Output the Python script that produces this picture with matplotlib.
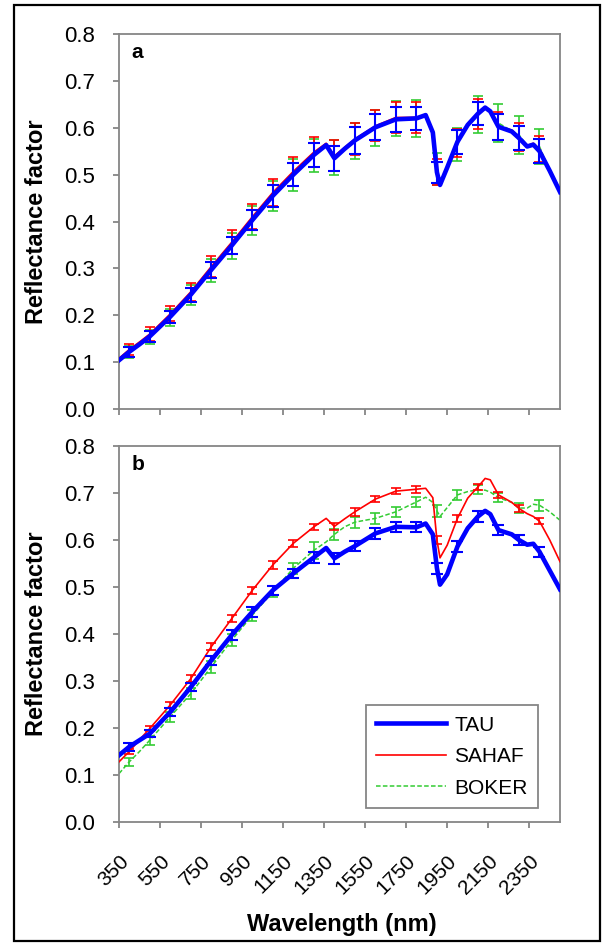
import numpy as np
import matplotlib
matplotlib.use('Agg')
import matplotlib.pyplot as plt
from matplotlib.patches import Rectangle

plt.rcParams['font.family'] = ['Liberation Sans', 'DejaVu Sans']

# noeuds de longueur d'onde (nm)
wl = [350, 400, 450, 500, 600, 700, 800, 900, 1000, 1100, 1200, 1300, 1360, 1400,
      1450, 1500, 1600, 1700, 1800, 1845, 1880, 1900, 1915, 1950, 2000, 2050, 2100,
      2135, 2160, 2200, 2265, 2300, 2340, 2370, 2400, 2450, 2500]

# panneau a
tau_a = [0.104, 0.122, 0.138, 0.155, 0.197, 0.244, 0.297, 0.349, 0.403, 0.455, 0.500,
         0.542, 0.563, 0.535, 0.555, 0.573, 0.601, 0.618, 0.620, 0.627, 0.590, 0.505,
         0.478, 0.515, 0.570, 0.606, 0.630, 0.643, 0.635, 0.602, 0.592, 0.578, 0.560,
         0.564, 0.550, 0.508, 0.463]
sahaf_a = [0.108, 0.127, 0.143, 0.160, 0.203, 0.250, 0.304, 0.356, 0.410, 0.462, 0.507,
           0.548, 0.567, 0.540, 0.558, 0.576, 0.604, 0.622, 0.622, 0.628, 0.592, 0.505,
           0.475, 0.515, 0.567, 0.606, 0.630, 0.642, 0.636, 0.603, 0.595, 0.580, 0.562,
           0.567, 0.555, 0.510, 0.465]
boker_a = [0.103, 0.121, 0.137, 0.154, 0.196, 0.243, 0.296, 0.348, 0.402, 0.454, 0.499,
           0.541, 0.561, 0.536, 0.554, 0.572, 0.600, 0.620, 0.620, 0.626, 0.592, 0.512,
           0.480, 0.518, 0.565, 0.604, 0.628, 0.641, 0.634, 0.610, 0.593, 0.585, 0.562,
           0.563, 0.560, 0.507, 0.462]

# panneau b
tau_b = [0.142, 0.160, 0.174, 0.188, 0.234, 0.287, 0.344, 0.398, 0.447, 0.493, 0.529,
         0.563, 0.583, 0.561, 0.575, 0.587, 0.614, 0.628, 0.627, 0.635, 0.612, 0.540,
         0.505, 0.527, 0.586, 0.625, 0.650, 0.662, 0.655, 0.621, 0.612, 0.600, 0.590,
         0.592, 0.575, 0.535, 0.495]
sahaf_b = [0.128, 0.150, 0.175, 0.199, 0.249, 0.305, 0.373, 0.433, 0.493, 0.547, 0.593,
           0.628, 0.646, 0.629, 0.645, 0.660, 0.687, 0.704, 0.708, 0.710, 0.690, 0.600,
           0.562, 0.589, 0.646, 0.689, 0.713, 0.731, 0.728, 0.696, 0.680, 0.667, 0.656,
           0.650, 0.640, 0.600, 0.554]
boker_b = [0.103, 0.128, 0.150, 0.174, 0.224, 0.273, 0.330, 0.387, 0.440, 0.490, 0.540,
           0.578, 0.596, 0.612, 0.628, 0.638, 0.646, 0.660, 0.681, 0.691, 0.680, 0.662,
           0.650, 0.669, 0.696, 0.703, 0.707, 0.706, 0.702, 0.690, 0.680, 0.668, 0.668,
           0.676, 0.674, 0.660, 0.642]

# barres d'erreur tous les 100 nm
wl_err = list(range(400, 2401, 100))
err_tau_a = [0.010, 0.012, 0.013, 0.015, 0.017, 0.019, 0.021, 0.023, 0.025, 0.026, 0.027,
             0.028, 0.028, 0.026, 0.025, 0.022, 0.025, 0.025, 0.028, 0.025, 0.025]
err_sahaf_a = [0.012, 0.014, 0.016, 0.019, 0.022, 0.025, 0.027, 0.029, 0.031, 0.032, 0.033,
               0.034, 0.033, 0.034, 0.034, 0.028, 0.030, 0.032, 0.030, 0.030, 0.028]
err_boker_a = [0.013, 0.015, 0.018, 0.021, 0.024, 0.027, 0.030, 0.032, 0.034, 0.036, 0.037,
               0.038, 0.038, 0.038, 0.040, 0.035, 0.035, 0.040, 0.040, 0.040, 0.038]
err_tau_b = [0.008, 0.008, 0.009, 0.009, 0.010, 0.010, 0.010, 0.010, 0.010, 0.011, 0.011,
             0.011, 0.011, 0.011, 0.011, 0.012, 0.012, 0.012, 0.011, 0.011, 0.011]
err_sahaf_b = [0.006, 0.006, 0.007, 0.007, 0.007, 0.007, 0.008, 0.008, 0.008, 0.007, 0.007,
               0.008, 0.007, 0.007, 0.007, 0.008, 0.008, 0.007, 0.007, 0.007, 0.007]
err_boker_b = [0.008, 0.010, 0.011, 0.012, 0.012, 0.012, 0.012, 0.012, 0.012, 0.018, 0.012,
               0.012, 0.012, 0.011, 0.011, 0.012, 0.010, 0.010, 0.010, 0.010, 0.012]

xticks = list(range(350, 2351, 200))
yticks = [0.0, 0.1, 0.2, 0.3, 0.4, 0.5, 0.6, 0.7, 0.8]

BLUE = '#0000ff'
RED = '#ff0000'
GREEN = '#33cc33'
GRAY = '#868686'


def at_err(vals):
    # valeurs de la série aux longueurs d'onde des barres
    d = dict(zip(wl, vals))
    return [d[w] for w in wl_err]


def draw_panel(ax, tau, sahaf, boker, etau, esahaf, eboker, letter, legend=False):
    ax.plot(wl, boker, color=GREEN, lw=1.1, ls=(0, (3, 1.5)), label='BOKER', zorder=2)
    ax.errorbar(wl_err, at_err(boker), yerr=eboker, fmt='none', ecolor=GREEN,
                elinewidth=1.2, capsize=3.6, capthick=1.2, zorder=2)
    ax.plot(wl, sahaf, color=RED, lw=1.2, label='SAHAF', zorder=3)
    ax.errorbar(wl_err, at_err(sahaf), yerr=esahaf, fmt='none', ecolor=RED,
                elinewidth=1.2, capsize=3.6, capthick=1.2, zorder=3)
    ax.plot(wl, tau, color=BLUE, lw=3.3, label='TAU', zorder=4)
    ax.errorbar(wl_err, at_err(tau), yerr=etau, fmt='none', ecolor=BLUE,
                elinewidth=1.5, capsize=4.2, capthick=1.5, zorder=4)

    ax.set_xlim(350, 2500)
    ax.set_ylim(0, 0.8)
    ax.set_xticks(xticks)
    ax.set_yticks(yticks)
    ax.set_yticklabels(['%.1f' % v for v in yticks], fontsize=16)
    for s in ax.spines.values():
        s.set_color(GRAY)
        s.set_linewidth(1.3)
    ax.tick_params(color=GRAY, width=1.3, length=4.5, direction='out')
    ax.tick_params(axis='y', pad=12.5)
    ax.text(0.029, 0.936, letter, transform=ax.transAxes, fontsize=15,
            fontweight='bold', va='baseline', ha='left')
    if legend:
        handles, labels = ax.get_legend_handles_labels()
        order = [labels.index(n) for n in ['TAU', 'SAHAF', 'BOKER']]
        leg = ax.legend([handles[i] for i in order], [labels[i] for i in order],
                        loc='lower right', bbox_to_anchor=(0.95, 0.037), borderaxespad=0,
                        fontsize=15, fancybox=False, framealpha=1, edgecolor=GRAY,
                        handlelength=3.37, handletextpad=0.38, borderpad=0.5,
                        labelspacing=0.6)
        leg.get_frame().set_linewidth(1.3)


fig = plt.figure(figsize=(6.05, 9.43), dpi=100)

ax_a = fig.add_axes([119 / 605, (943 - 409) / 943, (560 - 119) / 605, (409 - 34) / 943])
ax_b = fig.add_axes([119 / 605, (943 - 822) / 943, (560 - 119) / 605, (822 - 446) / 943])

draw_panel(ax_a, tau_a, sahaf_a, boker_a, err_tau_a, err_sahaf_a, err_boker_a, 'a')
ax_a.set_xticklabels([])
draw_panel(ax_b, tau_b, sahaf_b, boker_b, err_tau_b, err_sahaf_b, err_boker_b, 'b', legend=True)
ax_b.set_xticklabels([str(v) for v in xticks], rotation=45, ha='right',
                     rotation_mode='anchor', fontsize=15)
ax_b.tick_params(axis='x', pad=17)

# titres des axes
for ax in (ax_a, ax_b):
    pos = ax.get_position()
    fig.text(37 / 605, (pos.y0 + pos.y1) / 2, 'Reflectance factor', rotation=90,
             ha='center', va='center', fontsize=17, fontweight='bold')
fig.text(342 / 605, (943 - 924) / 943, 'Wavelength (nm)', ha='center', va='center',
         fontsize=17, fontweight='bold')

# cadre noir autour de la figure
fig.patches.append(Rectangle((14 / 605, 2 / 943), (600 - 14) / 605, (941 - 5) / 943,
                             transform=fig.transFigure, fill=False, edgecolor='black',
                             lw=1.6))

fig.savefig('out.png', dpi=100)
